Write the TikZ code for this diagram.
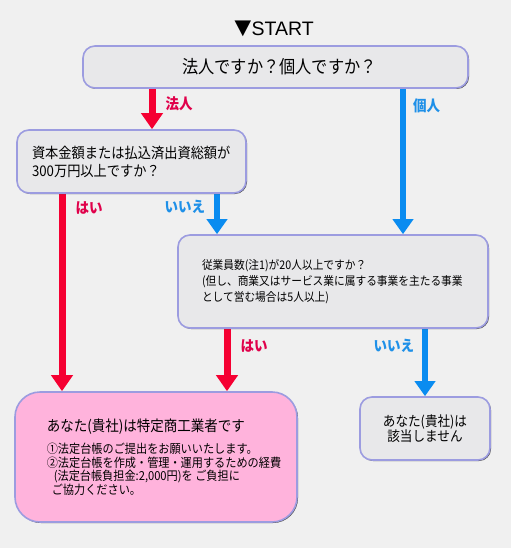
\documentclass[tikz,border=0pt]{standalone}
\usepackage{fontspec}
\setmainfont{Noto Sans CJK JP}[FakeStretch = 0.9]
\newfontfamily\latinfont{Liberation Sans}
\usetikzlibrary{arrows.meta,shadows,backgrounds,positioning}
\definecolor{bggray}{HTML}{F0F0F0}
\definecolor{boxgray}{HTML}{E8E8EA}
\definecolor{boxline}{HTML}{9C9CE0}
\definecolor{pinkfill}{HTML}{FFB3DC}
\definecolor{arrowred}{HTML}{F50032}
\definecolor{arrowblue}{HTML}{0A8CF0}
\definecolor{labelred}{HTML}{E0004A}
\definecolor{labelblue}{HTML}{1E90E8}
\tikzset{
  question/.style = {draw = boxline, line width = 1.6pt, fill = boxgray,
    rounded corners = 12pt,
    drop shadow = {shadow xshift = 1pt, shadow yshift = -1pt,
                   fill = black!70, opacity = 1}},
  redarrow/.style = {draw = arrowred, line width = 7pt,
    -{Triangle[width = 21pt, length = 16pt]}},
  bluearrow/.style = {draw = arrowblue, line width = 6pt,
    -{Triangle[width = 20pt, length = 15pt]}},
  redlabel/.style = {text = labelred, inner sep = 0pt,
    font = \fontsize{15}{15}\selectfont\bfseries},
  bluelabel/.style = {text = labelblue, inner sep = 0pt,
    font = \fontsize{15}{15}\selectfont\bfseries}
}
\begin{document}
\begin{tikzpicture}[x = 1pt, y = -1pt]
      \useasboundingbox (0,0) rectangle (511,548);
      \node [font = \fontsize{19.5}{20}\selectfont] (start) at (274,29)
        {▼\latinfont START};
      \node [question, minimum width = 385pt, minimum height = 42pt,
             font = \fontsize{18}{20}\selectfont]
        (q1) at (275.5,67) {\hspace*{8pt}法人ですか？個人ですか？};
      \node [question, text width = 199pt, align = left, inner xsep = 15pt,
             minimum height = 63pt, font = \fontsize{14.7}{18}\selectfont]
        (q2) at (131.5,161.5) {資本金額または払込済出資総額が\\300万円以上ですか？};
      \node [question, text width = 262pt, align = left, inner xsep = 24pt,
             minimum height = 93pt, font = \fontsize{11.9}{16}\selectfont]
        (q3) at (333,281.5) {従業員数(注1)が20人以上ですか？\\
          (但し、商業又はサービス業に属する事業を主たる事業\\
          として営む場合は5人以上)};
      \node [question, fill = pinkfill, rounded corners = 25pt,
             minimum width = 282pt, minimum height = 130pt, align = left,
             font = \fontsize{12.4}{13.6}\selectfont]
        (yes) at (156,457) {\hspace*{16pt}{\fontsize{15}{20}\selectfont
          あなた(貴社)は特定商工業者です}\\[9pt]
          \hspace*{16pt}①法定台帳のご提出をお願いいたします。\\
          \hspace*{16pt}②法定台帳を作成・管理・運用するための経費\\
          \hspace*{23pt}(法定台帳負担金:2,000円)を ご負担に\\
          \hspace*{21pt}ご協力ください。};
      \node [question, minimum width = 130pt, minimum height = 63pt,
             align = center, font = \fontsize{14}{14}\selectfont]
        (no) at (425,428.5) {あなた(貴社)は\\該当しません};
      \coordinate (xhojin) at (152,0);
      \coordinate (xkojin) at (403,0);
      \coordinate (xhai) at (62,0);
      \coordinate (xiie) at (217,0);
      \coordinate (xhaitwo) at (227,0);
      \coordinate (xiietwo) at (425,0);
      \begin{pgfonlayer}{background}
        \fill [bggray] (0,0) rectangle (511,548);
        \draw [redarrow] (q1.south -| xhojin) --
          node [redlabel, pos = .36, right = 10pt] {法人} (q2.north -| xhojin);
        \draw [bluearrow] (q1.south -| xkojin) --
          node [bluelabel, pos = .12, right = 7pt] {個人} (q3.north -| xkojin);
        \draw [redarrow] (q2.south -| xhai) --
          node [redlabel, pos = .07, right = 10pt] {はい} (yes.north -| xhai);
        \draw [bluearrow] (q2.south -| xiie) --
          node [bluelabel, pos = .33, left = 9pt] {いいえ} (q3.north -| xiie);
        \draw [redarrow] (q3.south -| xhaitwo) --
          node [redlabel, pos = .27, right = 10pt] {はい} (yes.north -| xhaitwo);
        \draw [bluearrow] (q3.south -| xiietwo) --
          node [bluelabel, pos = .25, left = 8pt] {いいえ} (no.north -| xiietwo);
      \end{pgfonlayer}
    \end{tikzpicture}
\end{document}
